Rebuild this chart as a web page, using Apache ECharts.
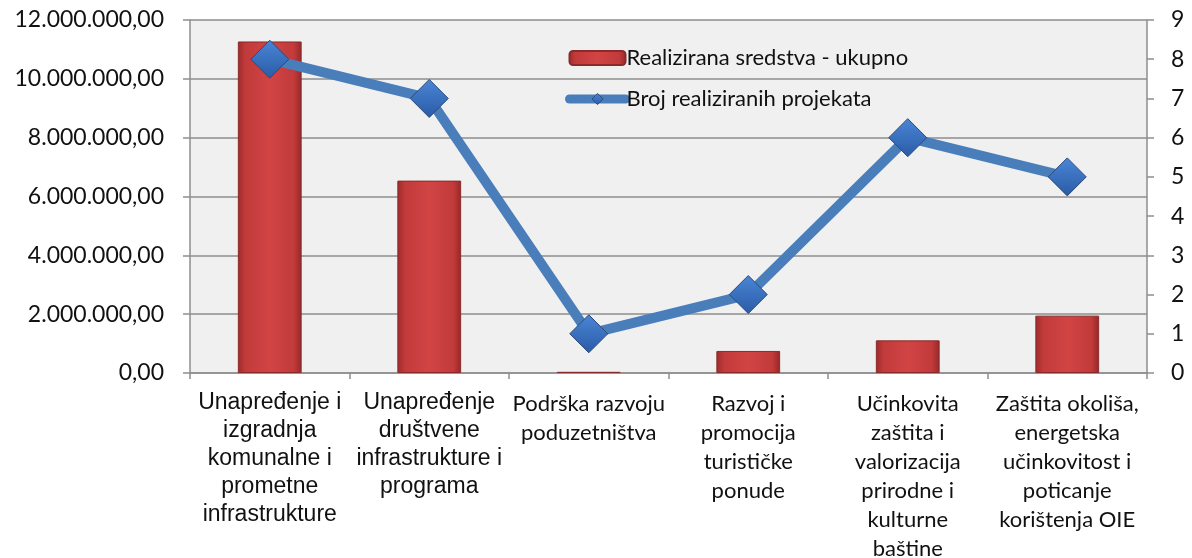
<!DOCTYPE html>
<html>
<head>
<meta charset="utf-8">
<script src="https://cdn.jsdelivr.net/npm/echarts@6/dist/echarts.min.js"></script>
<style>
  html, body { margin: 0; padding: 0; background: #fff; }
  #chart { width: 1192px; height: 558px; }
</style>
</head>
<body>
<div id="chart"></div>
<script>
// Podaci
const kategorije = [
  'Unapređenje i\nizgradnja\nkomunalne i\nprometne\ninfrastrukture',
  'Unapređenje\ndruštvene\ninfrastrukture i\nprograma',
  'Podrška razvoju\npoduzetništva',
  'Razvoj i\npromocija\nturističke\nponude',
  'Učinkovita\nzaštita i\nvalorizacija\nprirodne i\nkulturne\nbaštine',
  'Zaštita okoliša,\nenergetska\nučinkovitost i\npoticanje\nkorištenja OIE'
];
const sredstva = [11270000, 6540000, 40000, 750000, 1110000, 1950000];
const brojProjekata = [8, 7, 1, 2, 6, 5];

// 12.000.000,00 format
function formatKn(v) {
  const s = Math.round(v).toString().replace(/\B(?=(\d{3})+(?!\d))/g, '.');
  return s + ',00';
}

const FONT = 'Lato, "Open Sans", sans-serif';
const myChart = echarts.init(document.getElementById('chart'));

const option = {
  animation: false,
  legend: {
    orient: 'vertical',
    left: 560,
    top: 42,
    itemGap: 19,
    itemWidth: 56,
    itemHeight: 14,
    textStyle: { fontSize: 22, fontFamily: FONT, color: '#111', padding: [0, 0, 0, -4] },
    data: [
      { name: 'Realizirana sredstva - ukupno' },
      { name: 'Broj realiziranih projekata', lineStyle: { width: 9, cap: 'round' }, itemStyle: { borderWidth: 1 } }
    ]
  },
  grid: {
    left: 190, right: 45, top: 20, bottom: 185,
    outerBoundsMode: 'none',
    containLabel: false,
    show: true, backgroundColor: '#f0f0f0', borderWidth: 0
  },
  xAxis: {
    type: 'category',
    data: kategorije,
    axisLine: { lineStyle: { color: '#8e8e8e', width: 1.5 } },
    axisTick: { show: true, length: 6, lineStyle: { color: '#8e8e8e', width: 1.5 } },
    axisLabel: {
      interval: 0,
      margin: 16,
      color: '#111',
      formatter: function (value, idx) {
        const st = idx < 2 ? 'a' : 'b';
        return value.split('\n').map(l => '{' + st + '|' + l + '}').join('\n');
      },
      rich: {
        a: { fontSize: 23, lineHeight: 28, fontFamily: '"Liberation Sans", Arial, sans-serif', color: '#111' },
        b: { fontSize: 22, lineHeight: 29, fontFamily: FONT, color: '#111' }
      }
    }
  },
  yAxis: [
    {
      type: 'value',
      min: 0, max: 12000000, interval: 2000000,
      axisLine: { show: true, lineStyle: { color: '#8e8e8e', width: 1.5 } },
      axisTick: { show: true, length: 7, lineStyle: { color: '#8e8e8e', width: 1.5 } },
      splitLine: { lineStyle: { color: '#8e8e8e', width: 1.5 } },
      axisLabel: {
        margin: 26,
        fontSize: 23,
        color: '#111',
        fontFamily: FONT,
        formatter: formatKn
      }
    },
    {
      type: 'value',
      min: 0, max: 9, interval: 1,
      position: 'right',
      axisLine: { show: true, lineStyle: { color: '#8e8e8e', width: 1.5 } },
      axisTick: { show: true, length: 7, lineStyle: { color: '#8e8e8e', width: 1.5 } },
      splitLine: { show: false },
      axisLabel: {
        margin: 24,
        fontSize: 23,
        color: '#111',
        fontFamily: FONT
      }
    }
  ],
  series: [
    {
      name: 'Realizirana sredstva - ukupno',
      type: 'bar',
      yAxisIndex: 0,
      data: sredstva,
      barWidth: '40%',
      itemStyle: {
        color: new echarts.graphic.LinearGradient(0, 0, 1, 0, [
          { offset: 0, color: '#9c2b2b' },
          { offset: 0.12, color: '#c23a3a' },
          { offset: 0.5, color: '#d14444' },
          { offset: 0.88, color: '#c23a3a' },
          { offset: 1, color: '#942828' }
        ]),
        borderColor: '#8a2a2a',
        borderWidth: 1
      }
    },
    {
      name: 'Broj realiziranih projekata',
      type: 'line',
      yAxisIndex: 1,
      data: brojProjekata,
      symbol: 'diamond',
      symbolSize: 38,
      lineStyle: { color: '#4a7ebb', width: 10 },
      itemStyle: {
        color: new echarts.graphic.LinearGradient(0, 0, 0, 1, [
          { offset: 0, color: '#4a86d6' },
          { offset: 1, color: '#2a5ba6' }
        ]),
        borderColor: '#2c4a78',
        borderWidth: 1
      },
      z: 3
    }
  ]
};

myChart.setOption(option);
window.addEventListener('resize', () => myChart.resize());
</script>
</body>
</html>
